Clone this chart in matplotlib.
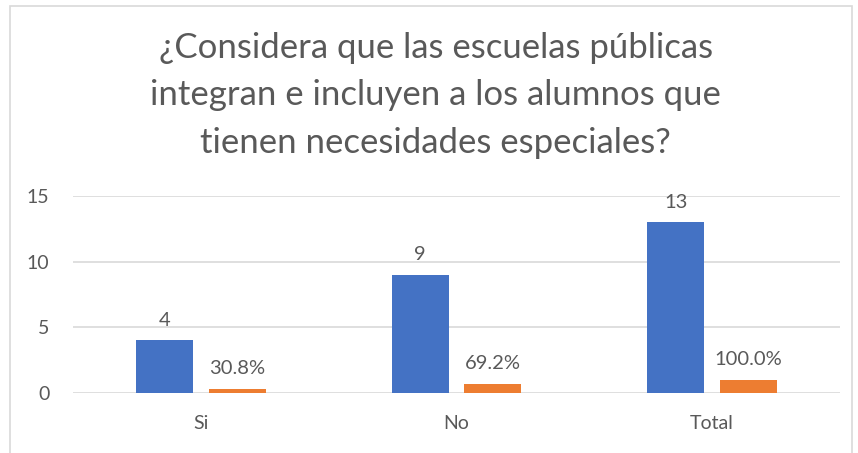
import matplotlib.pyplot as plt
from matplotlib.patches import Rectangle
import numpy as np

categorias = ["Si", "No", "Total"]
frecuencia = [4, 9, 13]
porcentaje = [0.308, 0.692, 1.0]
etiquetas_pct = ["30.8%", "69.2%", "100.0%"]

plt.rcParams['font.family'] = ['Lato', 'DejaVu Sans']
gris = "#595959"

fig = plt.figure(figsize=(8.58, 4.53), dpi=100)
ax = fig.add_axes([0.085, 0.1325, 0.894, 0.4345])

# marco del gráfico
fig.patches.append(Rectangle((10 / 858, -0.01), 842 / 858, 1 - 6 / 453 + 0.01,
                             transform=fig.transFigure, fill=False,
                             edgecolor="#D9D9D9", linewidth=1.2))

x = np.arange(len(categorias))
ancho = 0.223
b1 = ax.bar(x - 0.1425, frecuencia, ancho, color="#4472C4", zorder=3)
b2 = ax.bar(x + 0.1425, porcentaje, ancho, color="#ED7D31", zorder=3)

for r, v in zip(b1, frecuencia):
    ax.text(r.get_x() + r.get_width() / 2, v + 0.9, str(v), ha="center",
            va="bottom", fontsize=14.5, color=gris)
for r, v, t in zip(b2, porcentaje, etiquetas_pct):
    ax.text(r.get_x() + r.get_width() / 2, v + 0.9, t, ha="center",
            va="bottom", fontsize=14.5, color=gris)

ax.set_xlim(-0.5, 2.5)
ax.set_ylim(0, 15)
ax.set_yticks([0, 5, 10, 15])
ax.set_xticks(x)
ax.set_xticklabels(categorias)
ax.tick_params(axis="both", length=0, labelsize=14, colors=gris)
ax.tick_params(axis="x", pad=16)
ax.tick_params(axis="y", pad=17)
ax.grid(axis="y", color="#D9D9D9", linewidth=1.2, zorder=0)
for s in ax.spines.values():
    s.set_visible(False)

fig.text(0.508, 0.93, "¿Considera que las escuelas públicas\nintegran e incluyen a los alumnos que\ntienen necesidades especiales?",
         ha="center", va="top", fontsize=25, color=gris, linespacing=1.6)

fig.savefig("out.png", dpi=100)
